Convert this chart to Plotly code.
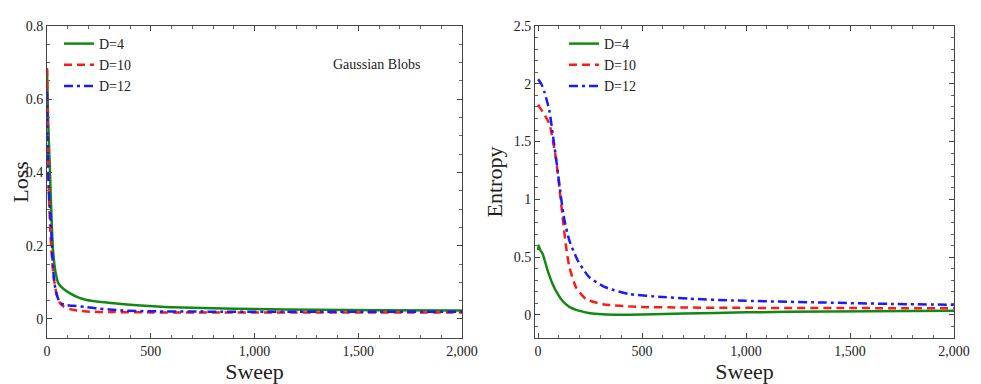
import plotly.graph_objects as go

# ---- data ----
labels = ["D=4", "D=10", "D=12"]
colors = ["#128a12", "#ff1a1a", "#1a1aff"]
dashes = ["solid", "8px,5px", "9px,4px,3px,4px"]

loss_x_d4 = [0, 5, 14, 22, 30, 42, 55, 80, 111, 150, 191, 250, 320, 450, 600, 800, 1000, 1300, 1600, 2000]
loss_y_d4 = [0.68, 0.55, 0.407, 0.27, 0.18, 0.125, 0.097, 0.082, 0.07, 0.059, 0.052, 0.047, 0.043, 0.037, 0.032, 0.029, 0.027, 0.025, 0.024, 0.023]

loss_x_d10 = [0, 4, 10, 16, 22, 30, 39, 50, 63, 80, 111, 150, 207, 300, 500, 800, 1200, 1600, 2000]
loss_y_d10 = [0.685, 0.5, 0.33, 0.24, 0.18, 0.125, 0.088, 0.06, 0.043, 0.034, 0.027, 0.023, 0.02, 0.019, 0.018, 0.018, 0.018, 0.018, 0.018]

loss_x_d12 = [0, 4, 10, 18, 26, 34, 45, 63, 90, 127, 180, 239, 300, 367, 500, 800, 1200, 1600, 2000]
loss_y_d12 = [0.62, 0.45, 0.33, 0.27, 0.17, 0.107, 0.07, 0.044, 0.038, 0.036, 0.033, 0.029, 0.026, 0.023, 0.021, 0.02, 0.02, 0.02, 0.02]

ent_x_d4 = [0, 3, 8, 22, 45, 70, 95, 118, 150, 199, 250, 310, 400, 500, 700, 1000, 1400, 2000]
ent_y_d4 = [0.56, 0.6, 0.57, 0.527, 0.39, 0.266, 0.18, 0.12, 0.07, 0.035, 0.015, 0.006, 0.002, 0.004, 0.012, 0.022, 0.03, 0.035]

ent_x_d10 = [0, 6, 25, 54, 70, 87, 102, 118, 135, 151, 183, 231, 311, 471, 700, 1000, 1500, 2000]
ent_y_d10 = [1.82, 1.8, 1.75, 1.655, 1.52, 1.34, 1.105, 0.845, 0.584, 0.41, 0.237, 0.136, 0.093, 0.07, 0.064, 0.061, 0.059, 0.058]

ent_x_d12 = [0, 15, 30, 54, 70, 94, 110, 127, 151, 191, 247, 327, 440, 600, 729, 937, 1370, 1700, 2000]
ent_y_d12 = [2.04, 2.0, 1.93, 1.77, 1.57, 1.25, 1.02, 0.816, 0.64, 0.47, 0.324, 0.237, 0.18, 0.155, 0.14, 0.125, 0.107, 0.095, 0.087]

loss_series = [(loss_x_d4, loss_y_d4), (loss_x_d10, loss_y_d10), (loss_x_d12, loss_y_d12)]
ent_series = [(ent_x_d4, ent_y_d4), (ent_x_d10, ent_y_d10), (ent_x_d12, ent_y_d12)]

serif = "Liberation Serif, Times New Roman, serif"

fig = go.Figure()
for i, (xs, ys) in enumerate(loss_series):
    fig.add_trace(go.Scatter(x=xs, y=ys, mode="lines", name=labels[i],
                             line=dict(color=colors[i], width=2.5, dash=dashes[i], shape="spline", smoothing=0.6),
                             xaxis="x", yaxis="y", legend="legend"))
for i, (xs, ys) in enumerate(ent_series):
    fig.add_trace(go.Scatter(x=xs, y=ys, mode="lines", name=labels[i],
                             line=dict(color=colors[i], width=2.5, dash=dashes[i], shape="spline", smoothing=0.6),
                             xaxis="x2", yaxis="y2", legend="legend2"))


def ax(minor_dtick, **kw):
    d = dict(showgrid=False, zeroline=False, showline=True, linecolor="#444", linewidth=1,
             mirror="allticks", ticks="inside", ticklen=5, tickcolor="#444", automargin=False,
             tickfont=dict(family=serif, size=14, color="#222"),
             minor=dict(ticks="inside", ticklen=3, tickcolor="#666", dtick=minor_dtick, tick0=0))
    d.update(kw)
    return d


title_font = dict(family=serif, size=22, color="#222")
legend_font = dict(family=serif, size=14, color="#222")

# page has an 8px body margin, so the figure is sized to fit the 981x384 window
W, H = 973, 376

fig.update_layout(
    width=W, height=H,
    margin=dict(l=0, r=0, t=0, b=0),
    paper_bgcolor="white", plot_bgcolor="white",
    font=dict(family=serif, color="#222"),
    showlegend=True,
    xaxis=ax(100, domain=[0.0401, 0.4666], range=[0, 2000], tickvals=[0, 500, 1000, 1500, 2000],
             tickformat=",", anchor="y",
             title=dict(text="Sweep", font=title_font, standoff=4)),
    yaxis=ax(0.05, domain=[0.1223, 0.9521], range=[-0.052, 0.8], tickvals=[0, 0.2, 0.4, 0.6, 0.8],
             anchor="x",
             title=dict(text="Loss", font=title_font, standoff=4)),
    xaxis2=ax(100, domain=[0.5416, 0.9723], range=[-15, 2000], tickvals=[0, 500, 1000, 1500, 2000],
              tickformat=",", anchor="y2",
              title=dict(text="Sweep", font=title_font, standoff=4)),
    yaxis2=ax(0.1, domain=[0.1223, 0.9521], range=[-0.2, 2.5], tickvals=[0, 0.5, 1, 1.5, 2, 2.5],
              ticktext=["0", "0.5", "1", "1.5", "2", "2.5"], anchor="x2",
              title=dict(text="Entropy", font=title_font, standoff=4)),
    legend=dict(x=0.0524, y=0.9468, xanchor="left", yanchor="top", bgcolor="rgba(0,0,0,0)",
                font=legend_font, tracegroupgap=0, itemwidth=30),
    legend2=dict(x=0.5714, y=0.9468, xanchor="left", yanchor="top", bgcolor="rgba(0,0,0,0)",
                 font=legend_font, tracegroupgap=0, itemwidth=30),
    annotations=[dict(text="Gaussian Blobs", x=0.3792, y=0.875, xref="paper", yref="paper",
                      showarrow=False, font=dict(family=serif, size=14, color="#222"))],
)

fig.write_html("out.html")
